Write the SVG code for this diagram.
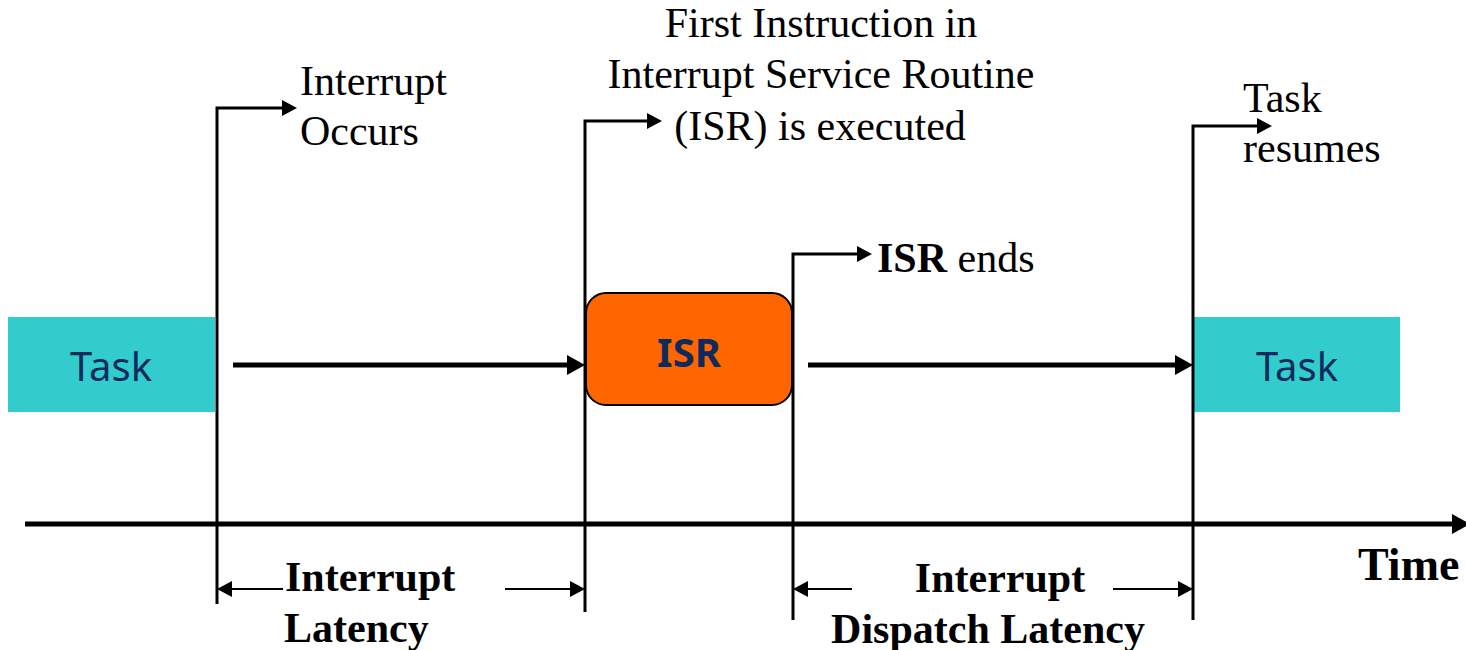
<svg xmlns="http://www.w3.org/2000/svg" width="1466" height="650" viewBox="0 0 1466 650">
  <style>
    .serif { font-family: "Liberation Serif", "Times New Roman", serif; font-size: 42px; fill: #000; }
    .bold { font-weight: bold; }
    .axis-title { font-size: 46px; }
    .task { fill: #33CCCC; }
    .label { font-family: "Noto Sans", "Open Sans", sans-serif; font-size: 40px; fill: #0F2A5C; }
    .wire { fill: none; stroke: #000; stroke-width: 3; }
    .thick { fill: none; stroke: #000; stroke-width: 5; }
    .dim { fill: none; stroke: #000; stroke-width: 2; }
  </style>
  <defs>
    <marker id="tip" markerUnits="userSpaceOnUse" markerWidth="15" markerHeight="16" refX="5" refY="8" orient="auto-start-reverse">
      <path d="M0,0 L15,8 L0,16 z" fill="#000"/>
    </marker>
    <marker id="tipBig" markerUnits="userSpaceOnUse" markerWidth="18" markerHeight="20" refX="6" refY="10" orient="auto-start-reverse">
      <path d="M0,0 L18,10 L0,20 z" fill="#000"/>
    </marker>
  </defs>

  <rect width="1466" height="650" fill="#fff"/>

  <!-- task running before the interrupt -->
  <g id="task-before">
    <rect class="task" x="8" y="317" width="207" height="95"/>
    <text class="label" x="111" y="381" text-anchor="middle">Task</text>
  </g>

  <!-- interrupt service routine -->
  <g id="isr">
    <rect x="586" y="293" width="206" height="112" rx="20" ry="20" fill="#FF6600" stroke="#000" stroke-width="2"/>
    <text class="label" x="689" y="367" text-anchor="middle" font-weight="bold">ISR</text>
  </g>

  <!-- task resumed -->
  <g id="task-after">
    <rect class="task" x="1194" y="317" width="206" height="95"/>
    <text class="label" x="1297" y="381" text-anchor="middle">Task</text>
  </g>

  <!-- event annotations -->
  <g id="evt-interrupt">
    <text class="serif" x="300" y="95">Interrupt</text>
    <text class="serif" x="300" y="145">Occurs</text>
  </g>
  <g id="evt-first-instruction">
    <text class="serif" x="821" y="37" text-anchor="middle">First Instruction in</text>
    <text class="serif" x="821" y="88" text-anchor="middle">Interrupt Service Routine</text>
    <text class="serif" x="820" y="140" text-anchor="middle">(ISR) is executed</text>
  </g>
  <g id="evt-isr-ends">
    <text class="serif" x="877" y="272"><tspan class="bold">ISR</tspan> ends</text>
  </g>
  <g id="evt-task-resumes">
    <text class="serif" x="1243" y="112">Task</text>
    <text class="serif" x="1243" y="162">resumes</text>
  </g>

  <!-- interval labels -->
  <g id="interval-latency">
    <text class="serif bold" x="285" y="591">Interrupt</text>
    <text class="serif bold" x="284" y="642">Latency</text>
  </g>
  <g id="interval-dispatch">
    <text class="serif bold" x="1000" y="592" text-anchor="middle">Interrupt</text>
    <text class="serif bold" x="988" y="643" text-anchor="middle">Dispatch Latency</text>
  </g>
  <g id="axis-label">
    <text class="serif bold axis-title" x="1358" y="580">Time</text>
  </g>

  <!-- connectors -->
  <g id="connectors">
    <!-- event markers: vertical stem with a pointer to each annotation -->
    <path class="wire" d="M217,604 V108 H287" marker-end="url(#tip)"/>
    <path class="wire" d="M585,612 V121 H652" marker-end="url(#tip)"/>
    <path class="wire" d="M793,620 V254 H862" marker-end="url(#tip)"/>
    <path class="wire" d="M1193,620 V126 H1262" marker-end="url(#tip)"/>

    <!-- flow of control -->
    <path class="thick" d="M233,365 H573" marker-end="url(#tipBig)"/>
    <path class="thick" d="M808,365 H1181" marker-end="url(#tipBig)"/>

    <!-- time axis -->
    <path class="thick" d="M25,524 H1458" marker-end="url(#tipBig)"/>

    <!-- interval dimension arrows -->
    <path class="dim" d="M283,589 H227" marker-end="url(#tip)"/>
    <path class="dim" d="M505,589 H575" marker-end="url(#tip)"/>
    <path class="dim" d="M852,589 H803" marker-end="url(#tip)"/>
    <path class="dim" d="M1113,589 H1183" marker-end="url(#tip)"/>
  </g>
</svg>
